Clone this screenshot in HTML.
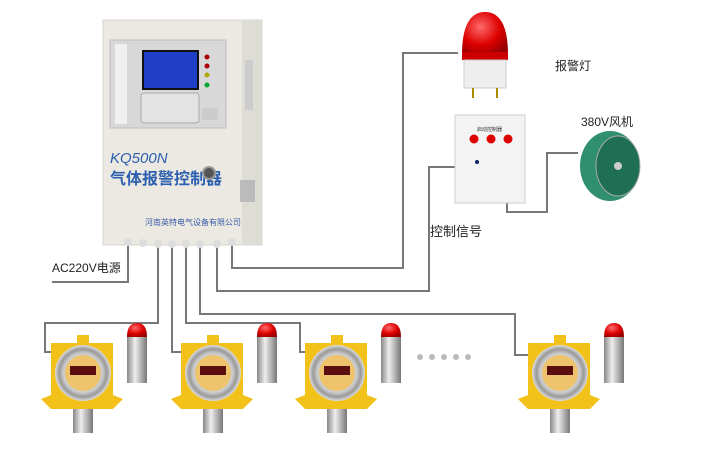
<!DOCTYPE html><html><head><meta charset="utf-8"><style>
body{margin:0;background:#fff;width:720px;height:451px;overflow:hidden}
text{font-family:"Liberation Sans","Noto Sans CJK SC",sans-serif}
</style></head><body>
<svg width="720" height="451" viewBox="0 0 720 451" xmlns="http://www.w3.org/2000/svg">
<defs>
<linearGradient id="met" x1="0" x2="1"><stop offset="0" stop-color="#888"/><stop offset=".4" stop-color="#eee"/><stop offset="1" stop-color="#777"/></linearGradient>
<radialGradient id="red" cx=".4" cy=".35" r=".7"><stop offset="0" stop-color="#ff6a6a"/><stop offset=".6" stop-color="#d00"/><stop offset="1" stop-color="#900"/></radialGradient>
<radialGradient id="ring"><stop offset=".7" stop-color="#ccc"/><stop offset=".85" stop-color="#999"/><stop offset="1" stop-color="#ddd"/></radialGradient>
<g id="det">
 <rect x="-15" y="-50" width="22" height="56" rx="4" fill="url(#met)"/>
 <path d="M-14 -40 Q-4 -56 6 -40 Z" fill="url(#red)"/>
 <rect x="40" y="-50" width="0" height="0"/>
 <g transform="translate(43,0)">
  <path d="M-10 -36 Q-10 -50 0 -50 Q10 -50 10 -36 Z" fill="url(#red)"/>
  <rect x="-10" y="-36" width="20" height="42" fill="url(#met)"/>
  <rect x="-10" y="-5" width="20" height="3" fill="#eee"/>
 </g>
</g>
</defs>
<!-- wires -->
<g fill="none" stroke="#777" stroke-width="2">
 <path d="M232 245V268H403V53H458"/>
 <path d="M217 245V291H429V167H455"/>
 <path d="M200 245V314H515V355H535"/>
 <path d="M186 245V323H300V352H310"/>
 <path d="M172 245V352H182"/>
 <path d="M158 245V323H45V352H55"/>
 <path d="M128 245V282H52"/>
 <path d="M507 203V212H547V153H578"/>
</g>
<!-- controller -->
<rect x="103" y="20" width="159" height="225" fill="#ebe9e2" stroke="#d6d4cc"/>
<rect x="242" y="20" width="20" height="225" fill="#deddd5"/>
<rect x="110" y="40" width="116" height="88" fill="#d8d8d8" stroke="#bbb"/>
<rect x="115" y="44" width="12" height="80" fill="#f0f0f0"/>
<rect x="143" y="51" width="55" height="38" fill="#1f3fc8" stroke="#111" stroke-width="2"/>
<rect x="141" y="93" width="58" height="30" rx="3" fill="#e3e3e3" stroke="#aaa"/>
<rect x="202" y="108" width="16" height="12" fill="#ccc"/>
<circle cx="207" cy="57" r="2.5" fill="#a00"/><circle cx="207" cy="66" r="2.5" fill="#a00"/><circle cx="207" cy="75" r="2.5" fill="#aa0"/><circle cx="207" cy="85" r="2.5" fill="#0a3"/>
<rect x="245" y="60" width="8" height="50" fill="#ccc"/>
<text x="110" y="163" font-size="15" font-style="italic" fill="#2c5fb0">KQ500N</text>
<text x="110" y="184" font-size="16" fill="#2c5fb0" font-weight="bold">气体报警控制器</text>
<circle cx="209" cy="173" r="6" fill="#555" stroke="#999" stroke-width="2"/>
<rect x="240" y="180" width="15" height="22" fill="#bbb"/>
<text x="145" y="225" font-size="8" fill="#3a5aa8">河南英特电气设备有限公司</text>
<g fill="#ddd"><circle cx="128" cy="242" r="4"/><circle cx="143" cy="243" r="4"/><circle cx="158" cy="244" r="4"/><circle cx="172" cy="244" r="4"/><circle cx="186" cy="244" r="4"/><circle cx="200" cy="244" r="4"/><circle cx="217" cy="244" r="4"/><circle cx="232" cy="242" r="4"/></g>
<text x="52" y="272" font-size="12" fill="#222">AC220V电源</text>
<!-- alarm light -->
<path d="M462 55 Q462 12 485 12 Q508 12 508 55 Z" fill="url(#red)"/>
<rect x="462" y="52" width="46" height="8" fill="#c00"/>
<rect x="464" y="60" width="42" height="28" fill="#eee" stroke="#ccc"/>
<rect x="472" y="88" width="2" height="10" fill="#a80"/><rect x="496" y="88" width="2" height="10" fill="#a80"/>
<text x="555" y="70" font-size="12" fill="#222">报警灯</text>
<!-- control box -->
<rect x="455" y="115" width="70" height="88" fill="#f3f3f3" stroke="#ccc"/>
<text x="477" y="131" font-size="5" fill="#333">启动控制器</text>
<circle cx="474" cy="139" r="4.5" fill="#d00"/><circle cx="491" cy="139" r="4.5" fill="#d00"/><circle cx="508" cy="139" r="4.5" fill="#d00"/>
<circle cx="477" cy="162" r="2" fill="#126"/>
<text x="430" y="236" font-size="13" fill="#222">控制信号</text>
<!-- fan -->
<text x="581" y="126" font-size="12" fill="#222">380V风机</text>
<ellipse cx="610" cy="166" rx="30" ry="35" fill="#2f8f6e"/>
<ellipse cx="618" cy="166" rx="22" ry="30" fill="#1f6f55" stroke="#aaa"/>
<circle cx="618" cy="166" r="4" fill="#ccc"/>
<!-- dots -->
<g fill="#bbb"><circle cx="420" cy="357" r="3"/><circle cx="432" cy="357" r="3"/><circle cx="444" cy="357" r="3"/><circle cx="456" cy="357" r="3"/><circle cx="468" cy="357" r="3"/></g>
<!-- detectors -->
<g id="d">
 <g transform="translate(83,373)">
  <rect x="-10" y="28" width="20" height="32" fill="url(#met)"/>
  <path d="M-32 -30 H30 V22 L40 26 L30 36 H-32 L-42 26 L-32 22 Z" fill="#f2c21a"/>
  <path d="M-6 -38 H6 V-30 H-6Z" fill="#f2c21a"/>
  <circle r="28" fill="url(#ring)"/>
  <circle r="18" fill="#eec36b"/>
  <rect x="-13" y="-7" width="26" height="9" fill="#5a0e0e"/>
  <g transform="translate(54,0)">
   <path d="M-10 -36 Q-10 -50 0 -50 Q10 -50 10 -36 Z" fill="url(#red)"/>
   <rect x="-10" y="-36" width="20" height="46" fill="url(#met)"/>
  </g>
 </g>
</g>
<use href="#d" transform="translate(130,0)"/>
<use href="#d" transform="translate(254,0)"/>
<use href="#d" transform="translate(477,0)"/>
</svg>
</body></html>
